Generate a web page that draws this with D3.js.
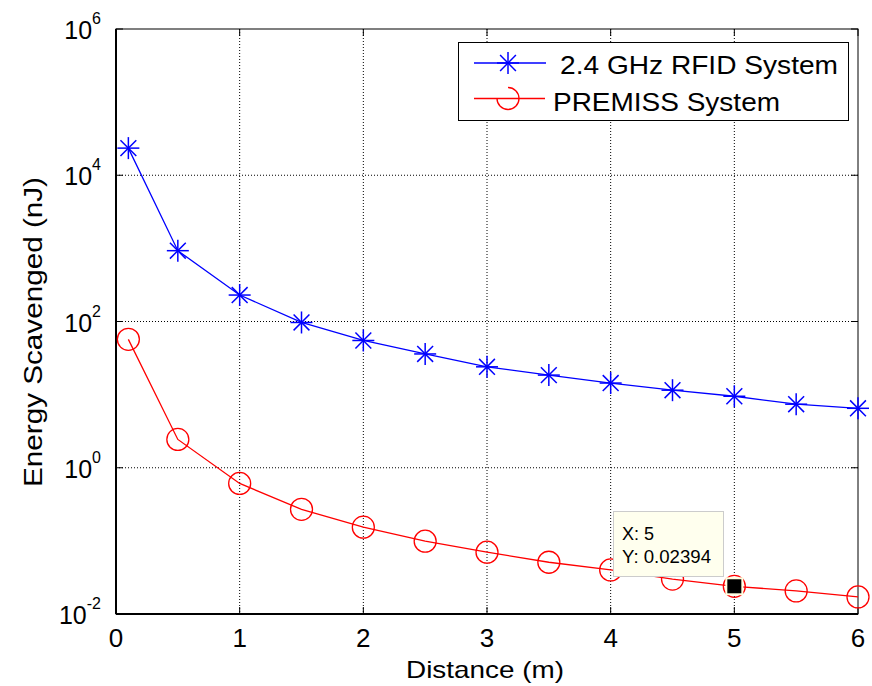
<!DOCTYPE html>
<html>
<head>
<meta charset="utf-8">
<script src="https://cdn.jsdelivr.net/npm/d3@7"></script>
<style>
  body { margin: 0; background: #fff; }
  text { font-family: "Liberation Sans", Arial, sans-serif; fill: #000; }
</style>
</head>
<body>
<svg id="chart" width="872" height="686"></svg>
<script>
const distance = [0.1, 0.5, 1, 1.5, 2, 2.5, 3, 3.5, 4, 4.5, 5, 5.5, 6];
const rfidEnergy = [23500, 930, 230, 97, 55, 36, 24, 18.5, 14.4, 11.5, 9.5, 7.4, 6.5];
const premissEnergy = [57, 2.44, 0.61, 0.27, 0.154, 0.099, 0.070, 0.051, 0.040, 0.030, 0.02394, 0.0207, 0.0171];
const xTicks = [0, 1, 2, 3, 4, 5, 6];
const yTicks = [-2, 0, 2, 4, 6]; // exponents of 10
const seriesNames = ["2.4 GHz RFID System", "PREMISS System"];
const tipPoint = { x: 5, y: 0.02394 };

const svg = d3.select("#chart");
const pLeft = 116, pRight = 858, pTop = 29, pBottom = 614;

const x = d3.scaleLinear().domain([0, 6]).range([pLeft, pRight]);
const y = d3.scaleLog().domain([1e-2, 1e6]).range([pBottom, pTop]);

// grid
const grid = svg.append("g")
  .attr("stroke", "#000")
  .attr("stroke-width", 1)
  .attr("stroke-dasharray", "1,2");
grid.selectAll("line.gx")
  .data(xTicks.slice(1, -1))
  .enter().append("line")
  .attr("x1", d => x(d)).attr("x2", d => x(d))
  .attr("y1", pTop).attr("y2", pBottom);
grid.selectAll("line.gy")
  .data(yTicks.slice(1, -1))
  .enter().append("line")
  .attr("x1", pLeft).attr("x2", pRight)
  .attr("y1", d => y(Math.pow(10, d))).attr("y2", d => y(Math.pow(10, d)));

// inward ticks on all four sides
const ticks = svg.append("g").attr("stroke", "#000").attr("stroke-width", 1);
xTicks.forEach(t => {
  ticks.append("line").attr("x1", x(t)).attr("x2", x(t)).attr("y1", pBottom).attr("y2", pBottom - 7);
  ticks.append("line").attr("x1", x(t)).attr("x2", x(t)).attr("y1", pTop).attr("y2", pTop + 7);
});
yTicks.forEach(t => {
  const yy = y(Math.pow(10, t));
  ticks.append("line").attr("x1", pLeft).attr("x2", pLeft + 7).attr("y1", yy).attr("y2", yy);
  ticks.append("line").attr("x1", pRight).attr("x2", pRight - 7).attr("y1", yy).attr("y2", yy);
});

// box
svg.append("rect")
  .attr("x", pLeft).attr("y", pTop)
  .attr("width", pRight - pLeft).attr("height", pBottom - pTop)
  .attr("fill", "none").attr("stroke", "#000").attr("stroke-width", 1);
svg.append("line").attr("x1", pLeft).attr("x2", pLeft).attr("y1", pTop).attr("y2", pBottom)
  .attr("stroke", "#000").attr("stroke-width", 2);
svg.append("line").attr("x1", pLeft).attr("x2", pRight).attr("y1", pBottom).attr("y2", pBottom)
  .attr("stroke", "#000").attr("stroke-width", 2);

// tick labels
svg.selectAll("text.xt")
  .data(xTicks)
  .enter().append("text")
  .attr("x", d => x(d)).attr("y", 647)
  .attr("text-anchor", "middle")
  .style("font-size", "26px")
  .text(d => d);

yTicks.forEach(t => {
  const yy = y(Math.pow(10, t));
  const lab = svg.append("text")
    .attr("x", 101).attr("y", yy + 10)
    .attr("text-anchor", "end")
    .style("font-size", "25px");
  lab.append("tspan").text("10");
  lab.append("tspan").attr("dy", -15).style("font-size", "16px").text(t);
});

// axis titles
svg.append("text")
  .attr("x", 485).attr("y", 678)
  .attr("text-anchor", "middle")
  .attr("textLength", 158).attr("lengthAdjust", "spacingAndGlyphs")
  .style("font-size", "24px")
  .text("Distance (m)");
svg.append("text")
  .attr("transform", "translate(42, 332) rotate(-90)")
  .attr("text-anchor", "middle")
  .attr("textLength", 310).attr("lengthAdjust", "spacingAndGlyphs")
  .style("font-size", "25px")
  .text("Energy Scavenged (nJ)");

// series
const line = d3.line().x(d => x(d[0])).y(d => y(d[1]));
const rfid = distance.map((d, i) => [d, rfidEnergy[i]]);
const premiss = distance.map((d, i) => [d, premissEnergy[i]]);

function star(g, cx, cy, r, color) {
  const s = g.append("g").attr("stroke", color).attr("stroke-width", 1.5);
  s.append("line").attr("x1", cx - r).attr("x2", cx + r).attr("y1", cy).attr("y2", cy);
  s.append("line").attr("x1", cx).attr("x2", cx).attr("y1", cy - r).attr("y2", cy + r);
  const k = r * 0.72;
  s.append("line").attr("x1", cx - k).attr("x2", cx + k).attr("y1", cy - k).attr("y2", cy + k);
  s.append("line").attr("x1", cx - k).attr("x2", cx + k).attr("y1", cy + k).attr("y2", cy - k);
}

const plot = svg.append("g");
plot.append("path").datum(rfid)
  .attr("d", line).attr("fill", "none").attr("stroke", "#0000ff").attr("stroke-width", 1.3);
rfid.forEach(d => star(plot, x(d[0]), y(d[1]), 11, "#0000ff"));

plot.append("path").datum(premiss)
  .attr("d", line).attr("fill", "none").attr("stroke", "#ff0000").attr("stroke-width", 1.3);
plot.selectAll("circle.pm")
  .data(premiss)
  .enter().append("circle")
  .attr("cx", d => x(d[0])).attr("cy", d => y(d[1]))
  .attr("r", 11)
  .attr("fill", "none").attr("stroke", "#ff0000").attr("stroke-width", 1.3);

// data tip
const tipX = x(tipPoint.x), tipY = y(tipPoint.y);
svg.append("rect")
  .attr("x", tipX - 9).attr("y", tipY - 9).attr("width", 18).attr("height", 18)
  .attr("fill", "#ffffe0");
svg.append("rect")
  .attr("x", tipX - 7).attr("y", tipY - 7).attr("width", 14).attr("height", 14)
  .attr("fill", "#000");
svg.append("rect")
  .attr("x", 613.5).attr("y", 511.5).attr("width", 110).attr("height", 65)
  .attr("fill", "#ffffee").attr("stroke", "#cccccc").attr("stroke-width", 1);
svg.append("text").attr("x", 622).attr("y", 540).style("font-size", "18px").text("X: " + tipPoint.x);
svg.append("text").attr("x", 622).attr("y", 563)
  .attr("textLength", 89).attr("lengthAdjust", "spacingAndGlyphs")
  .style("font-size", "18px").text("Y: " + tipPoint.y);

// legend
const lg = svg.append("g");
lg.append("rect")
  .attr("x", 458.5).attr("y", 42.5).attr("width", 390).attr("height", 78)
  .attr("fill", "#fff").attr("stroke", "#000").attr("stroke-width", 1);
lg.append("line").attr("x1", 474).attr("x2", 546).attr("y1", 63).attr("y2", 63)
  .attr("stroke", "#0000ff").attr("stroke-width", 1.3);
star(lg, 508, 63, 11, "#0000ff");
lg.append("text").attr("x", 560).attr("y", 74)
  .attr("textLength", 278).attr("lengthAdjust", "spacingAndGlyphs")
  .style("font-size", "26px").text(seriesNames[0]);
lg.append("line").attr("x1", 474).attr("x2", 545).attr("y1", 98.5).attr("y2", 98.5)
  .attr("stroke", "#ff0000").attr("stroke-width", 1.3);
lg.append("path")
  .attr("d", d3.arc()({ innerRadius: 11, outerRadius: 11, startAngle: 0, endAngle: 1.5 * Math.PI }))
  .attr("transform", "translate(508,98.5)")
  .attr("fill", "none").attr("stroke", "#ff0000").attr("stroke-width", 1.3);
lg.append("text").attr("x", 553).attr("y", 111)
  .attr("textLength", 227).attr("lengthAdjust", "spacingAndGlyphs")
  .style("font-size", "26px").text(seriesNames[1]);
</script>
</body>
</html>
